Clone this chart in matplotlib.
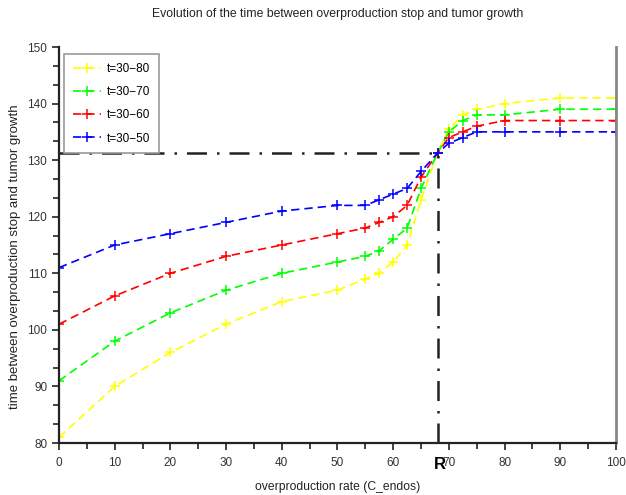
import matplotlib
matplotlib.use('Agg')
import matplotlib.pyplot as plt
import numpy as np

# overproduction rate (C_endos)
rate = [0, 10, 20, 30, 40, 50, 55, 57.5, 60, 62.5, 65, 68, 70, 72.5, 75, 80, 90, 100]

# time between overproduction stop and tumor growth
t30_80 = [81, 90, 96, 101, 105, 107, 109, 110, 112, 115, 123, 131.3, 135.5, 138, 139, 140, 141, 141]
t30_70 = [91, 98, 103, 107, 110, 112, 113, 114, 116, 118, 125, 131.3, 135, 137, 138, 138, 139, 139]
t30_60 = [101, 106, 110, 113, 115, 117, 118, 119, 120, 122, 127, 131.3, 134, 135, 136, 137, 137, 137]
t30_50 = [111, 115, 117, 119, 121, 122, 122, 123, 124, 125, 128, 131.3, 133, 134, 135, 135, 135, 135]

series = [('t=30\u221280', t30_80, '#ffff00'),
          ('t=30\u221270', t30_70, '#00ff00'),
          ('t=30\u221260', t30_60, '#ff0000'),
          ('t=30\u221250', t30_50, '#0000ff')]

R_x = 68
R_y = 131.3

plt.rcParams['font.family'] = ['Liberation Sans', 'DejaVu Sans']

fig = plt.figure(figsize=(6.26, 4.95), dpi=100)
ax = fig.add_axes([59/626, 1 - 443/495, (616 - 59)/626, (443 - 47)/495])

for name, vals, col in series:
    ax.plot(rate, vals, linestyle=(0, (5, 3)), color=col, lw=1.2,
            marker='+', markersize=6.5, markeredgewidth=1.1, label=name)

# threshold lines
ax.plot([0, R_x], [R_y, R_y], color='#222222', lw=1.8, linestyle=(0, (8, 4, 1, 4)))
ax.plot([R_x, R_x], [80, R_y], color='#222222', lw=1.8, linestyle=(0, (8, 4, 1, 4)))
ax.text(R_x + 0.3, 77.6, 'R', ha='center', va='top', fontsize=12, fontweight='bold')

ax.set_xlim(0, 100)
ax.set_ylim(80, 150)
ax.set_xticks(np.arange(0, 101, 10))
ax.set_xticks(np.arange(0, 101, 5), minor=True)
ax.set_yticks(np.arange(80, 151, 10))
ax.set_yticks(np.arange(80, 150.1, 10/3), minor=True)
ax.tick_params(which='both', direction='out', width=1.2, colors='#222222',
               labelsize=8.5, labelcolor='#333333')
ax.tick_params(which='major', length=5)
ax.tick_params(which='minor', length=4)
ax.tick_params(axis='x', pad=5)

ax.spines['top'].set_visible(False)
ax.spines['right'].set_color('#888888')
ax.spines['right'].set_linewidth(2)
ax.spines['left'].set_linewidth(1.6)
ax.spines['bottom'].set_linewidth(1.6)
ax.spines['left'].set_color('#222222')
ax.spines['bottom'].set_color('#222222')

ax.set_xlabel('overproduction rate (C_endos)', fontsize=8.7, color='#222222')
ax.xaxis.set_label_coords(0.5, -0.095)
ax.set_ylabel('time between overproduction stop and tumor growth', fontsize=9.5,
              color='#222222')
ax.yaxis.set_label_coords(-0.068, 0.47)
fig.text(0.54, 1 - 14/495, 'Evolution of the time between overproduction stop and tumor growth',
         ha='center', va='center', fontsize=8.8, color='#222222')

leg = ax.legend(loc='upper left', bbox_to_anchor=(0.009, 0.982), borderaxespad=0,
                fontsize=8.5, fancybox=False, framealpha=1, edgecolor='#999999',
                handlelength=2.4, handletextpad=0.5, labelspacing=0.95, borderpad=0.75)
leg.get_frame().set_linewidth(1.2)

fig.savefig('out.png', dpi=100)
